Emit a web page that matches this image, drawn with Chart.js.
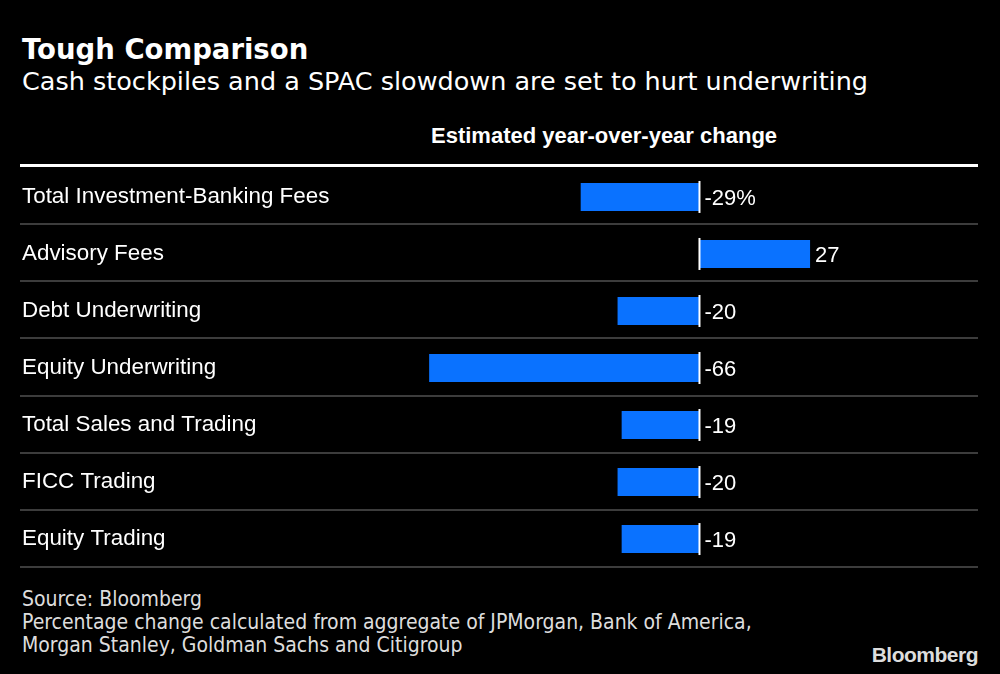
<!DOCTYPE html>
<html lang="en">
<head>
    <meta charset="UTF-8">
    <title>Tough Comparison</title>
    <script src="https://cdn.jsdelivr.net/npm/chart.js"></script>
    <style>
        body { margin: 0; background: #000; width: 1000px; height: 674px; overflow: hidden; position: relative; color: #fff; }
        .title { position: absolute; left: 22px; top: 33px; font: bold 27.5px "DejaVu Sans"; }
        .subtitle { position: absolute; left: 22px; top: 66px; font: 25.5px "DejaVu Sans"; }
        .header { position: absolute; left: 431px; top: 123px; font: bold 22px "Liberation Sans"; }
        .rule { position: absolute; left: 20px; top: 164px; width: 958px; height: 3px; background: #fff; }
        #grafico { position: absolute; left: 0; top: 155px; }
        .footer { position: absolute; left: 22px; top: 588px; font: 21px "DejaVu Sans Condensed", "DejaVu Sans"; font-stretch: condensed; line-height: 23px; color: #ddd; }
        .logo { position: absolute; right: 22px; top: 643px; font: bold 21px "Liberation Sans"; color: #ddd; letter-spacing: -0.5px; }
    </style>
</head>
<body>
    <div class="title">Tough Comparison</div>
    <div class="subtitle">Cash stockpiles and a SPAC slowdown are set to hurt underwriting</div>
    <div class="header">Estimated year-over-year change</div>
    <div class="rule"></div>
    <canvas id="grafico" width="1000" height="426"></canvas>
    <div class="footer">Source: Bloomberg<br>Percentage change calculated from aggregate of JPMorgan, Bank of America,<br>Morgan Stanley, Goldman Sachs and Citigroup</div>
    <div class="logo">Bloomberg</div>
<script>
    const categorias = ['Total Investment-Banking Fees', 'Advisory Fees', 'Debt Underwriting', 'Equity Underwriting', 'Total Sales and Trading', 'FICC Trading', 'Equity Trading'];
    const valores = [-29, 27, -20, -66, -19, -20, -19];
    const rotulos = ['-29%', '27', '-20', '-66', '-19', '-20', '-19'];

    // linhas entre as linhas da tabela + linha do zero + rótulos de valor
    const extras = {
        id: 'extras',
        beforeDatasetsDraw(chart) {
            const ctx = chart.ctx;
            const y = chart.scales.y;
            const passo = y.height / categorias.length;
            ctx.save();
            ctx.strokeStyle = '#3c3c3c';
            ctx.lineWidth = 2;
            for (let i = 1; i <= categorias.length; i++) {
                const py = Math.round(y.top + passo * i) - 1;
                ctx.beginPath();
                ctx.moveTo(20, py);
                ctx.lineTo(978, py);
                ctx.stroke();
            }
            ctx.restore();
        },
        afterDatasetsDraw(chart) {
            const ctx = chart.ctx;
            const x0 = chart.scales.x.getPixelForValue(0);
            const barras = chart.getDatasetMeta(0).data;
            ctx.save();
            ctx.strokeStyle = '#fff';
            ctx.lineWidth = 2;
            ctx.fillStyle = '#fff';
            ctx.font = '22px "Liberation Sans"';
            ctx.textBaseline = 'middle';
            barras.forEach(function (b, i) {
                ctx.beginPath();
                ctx.moveTo(x0, b.y - 16);
                ctx.lineTo(x0, b.y + 16);
                ctx.stroke();
                const tx = valores[i] >= 0 ? b.x + 5 : x0 + 5;
                ctx.fillText(rotulos[i], tx, b.y + 2);
            });
            ctx.restore();
        }
    };

    new Chart(document.getElementById('grafico'), {
        type: 'bar',
        data: {
            labels: categorias,
            datasets: [{
                data: valores,
                backgroundColor: '#0a72ff',
                barPercentage: 0.49,
                categoryPercentage: 1
            }]
        },
        options: {
            indexAxis: 'y',
            responsive: false,
            animation: false,
            events: [],
            layout: { padding: { left: 22, right: 22, top: 0, bottom: 0 } },
            plugins: { legend: { display: false }, tooltip: { enabled: false } },
            scales: {
                x: { display: false, min: -78, max: 68 },
                y: {
                    grid: { display: false },
                    border: { display: false },
                    afterFit(scale) { scale.width = 358; },
                    ticks: {
                        crossAlign: 'far',
                        color: '#fff',
                        font: { family: 'Liberation Sans', size: 22.4, lineHeight: 1.2 },
                        padding: 0
                    }
                }
            }
        },
        plugins: [extras]
    });
</script>
</body>
</html>
